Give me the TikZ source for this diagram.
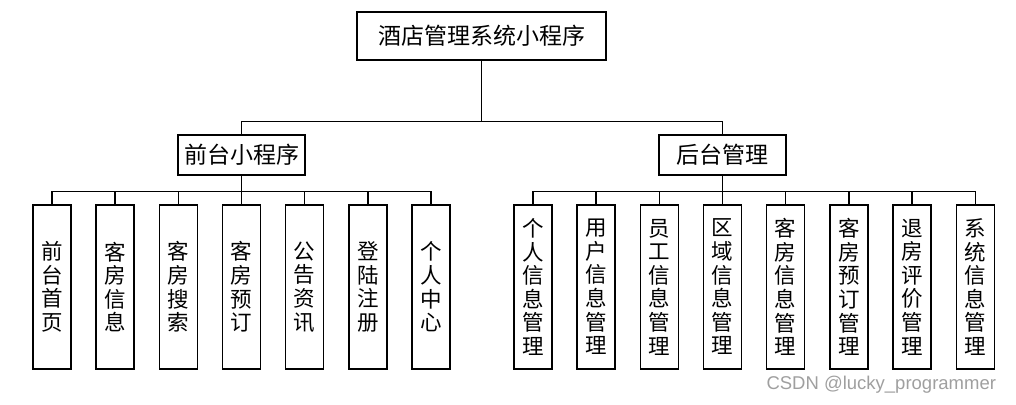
\documentclass[tikz,border=0pt]{standalone}
\usepackage{fontspec}
\newfontfamily\cjk{Noto Sans CJK SC}
\newfontfamily\marksf{Liberation Sans}
\usetikzlibrary{positioning}
\tikzstyle{block} = [draw, fill=white, rectangle, inner sep=0pt, font=\cjk\fontsize{23}{23}\selectfont]
\tikzstyle{leaf} = [block, minimum width=38pt, minimum height=164pt, align=center, font=\cjk\fontsize{21.5}{23.6}\selectfont]

\begin{document}
\begin{tikzpicture}[auto,node distance=63.2pt,line width=1.3pt]
    \useasboundingbox (0,0) rectangle (1016pt,-404pt);
    \node[block, minimum width=249pt, minimum height=48pt] (root) at (481.5pt,-36pt) {酒店管理系统小程序};
    \node[block, minimum width=127pt, minimum height=40pt] (front) at (241.5pt,-155pt) {前台小程序};
    \node[block, minimum width=127pt, minimum height=40pt] (back) at (722.5pt,-155pt) {后台管理};
    % front leaves
    \node[leaf, below of=front, node distance=132pt] (f4) {客\\房\\预\\订};
    \node[leaf, left of=f4] (f3) {客\\房\\搜\\索};
    \node[leaf, left of=f3] (f2) {客\\房\\信\\息};
    \node[leaf, left of=f2] (f1) {前\\台\\首\\页};
    \node[leaf, right of=f4] (f5) {公\\告\\资\\讯};
    \node[leaf, right of=f5] (f6) {登\\陆\\注\\册};
    \node[leaf, right of=f6] (f7) {个\\人\\中\\心};
    % back leaves
    \node[leaf, below of=back, node distance=132pt] (b4) {区\\域\\信\\息\\管\\理};
    \node[leaf, left of=b4] (b3) {员\\工\\信\\息\\管\\理};
    \node[leaf, left of=b3] (b2) {用\\户\\信\\息\\管\\理};
    \node[leaf, left of=b2] (b1) {个\\人\\信\\息\\管\\理};
    \node[leaf, right of=b4] (b5) {客\\房\\信\\息\\管\\理};
    \node[leaf, right of=b5] (b6) {客\\房\\预\\订\\管\\理};
    \node[leaf, right of=b6] (b7) {退\\房\\评\\价\\管\\理};
    \node[leaf, right of=b7] (b8) {系\\统\\信\\息\\管\\理};
    \node[anchor=base east, text=gray!75, font=\marksf\fontsize{18.5}{18.5}\selectfont] (mark) at (1000pt,-389pt) {CSDN @lucky\_programmer};
    \draw (front.north) -- ++(0,13pt) -| (root.south);
    \draw (back.north) -- ++(0,13pt) -| (root.south);
    \draw (f1.north) -- ++(0,13pt) -| (front.south);
    \draw (f2.north) -- ++(0,13pt) -| (front.south);
    \draw (f3.north) -- ++(0,13pt) -| (front.south);
    \draw (f4.north) -- (front.south);
    \draw (f5.north) -- ++(0,13pt) -| (front.south);
    \draw (f6.north) -- ++(0,13pt) -| (front.south);
    \draw (f7.north) -- ++(0,13pt) -| (front.south);
    \draw (b1.north) -- ++(0,13pt) -| (back.south);
    \draw (b2.north) -- ++(0,13pt) -| (back.south);
    \draw (b3.north) -- ++(0,13pt) -| (back.south);
    \draw (b4.north) -- (back.south);
    \draw (b5.north) -- ++(0,13pt) -| (back.south);
    \draw (b6.north) -- ++(0,13pt) -| (back.south);
    \draw (b7.north) -- ++(0,13pt) -| (back.south);
    \draw (b8.north) -- ++(0,13pt) -| (back.south);
\end{tikzpicture}
\end{document}
